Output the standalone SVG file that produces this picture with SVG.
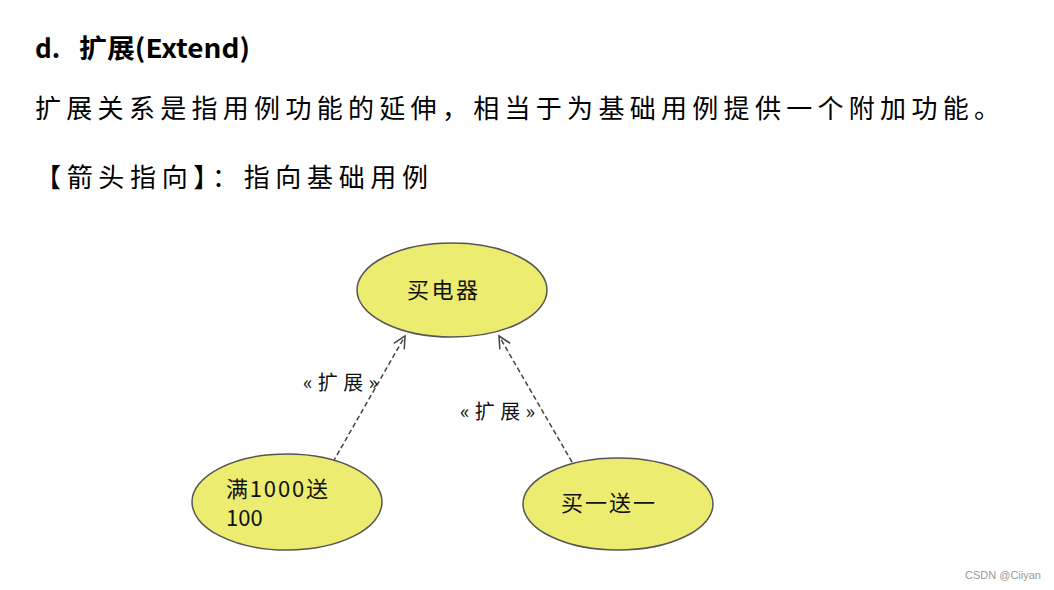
<svg xmlns="http://www.w3.org/2000/svg" width="1054" height="590" viewBox="0 0 1054 590">
<style>
.t{font-family:"Noto Sans CJK SC","Liberation Sans",sans-serif;fill:#000}
.node{fill:#ECEC70;stroke:#555;stroke-width:1.5}
.nt{font-family:"Noto Sans CJK SC","Liberation Sans",sans-serif;font-size:22px;fill:#111}
.edge{stroke:#444;stroke-width:1.5;stroke-dasharray:5,3;fill:none}
.lbl{font-family:"Noto Sans CJK SC","Liberation Sans",sans-serif;font-size:20px;fill:#111}
</style>
<defs>
<marker id="open" markerWidth="16" markerHeight="16" refX="13" refY="8" orient="auto" markerUnits="userSpaceOnUse">
<path d="M1,2 L13,8 L1,14" fill="none" stroke="#444" stroke-width="1.5"/>
</marker>
</defs>
<rect width="1054" height="590" fill="#fff"/>
<g id="texts">
<text class="t" x="35" y="58" font-size="26" font-weight="bold">d.<tspan x="79" textLength="171" lengthAdjust="spacingAndGlyphs">扩展(Extend)</tspan></text>
<text class="t" x="35" y="118" font-size="26" textLength="965" lengthAdjust="spacing">扩展关系是指用例功能的延伸，相当于为基础用例提供一个附加功能。</text>
<text class="t" x="35" y="187" font-size="26" textLength="393" lengthAdjust="spacing">【箭头指向】：指向基础用例</text>
</g>
<g id="connectors">
<line class="edge" x1="333" y1="462" x2="405" y2="336" marker-end="url(#open)"/>
<line class="edge" x1="572" y1="462" x2="499" y2="336" marker-end="url(#open)"/>
<text class="lbl" x="303" y="390" textLength="75" lengthAdjust="spacing">«扩展»</text>
<text class="lbl" x="460" y="419" textLength="75" lengthAdjust="spacing">«扩展»</text>
</g>
<g id="node-buy">
<ellipse class="node" cx="452" cy="290" rx="95" ry="47"/>
<text class="nt" x="407" y="298" textLength="71" lengthAdjust="spacing">买电器</text>
</g>
<g id="node-full">
<ellipse class="node" cx="287" cy="502" rx="95" ry="48"/>
<text class="nt" x="226" y="497" font-size="20" textLength="102" lengthAdjust="spacing">满1000送</text>
<text class="nt" x="226" y="526" font-size="20">100</text>
</g>
<g id="node-bogo">
<ellipse class="node" cx="618" cy="504" rx="95" ry="46"/>
<text class="nt" x="561" y="511" textLength="94" lengthAdjust="spacing">买一送一</text>
</g>
<text x="965" y="579" font-family="Liberation Sans,sans-serif" font-size="11" fill="#999">CSDN @Ciiyan</text>
</svg>
